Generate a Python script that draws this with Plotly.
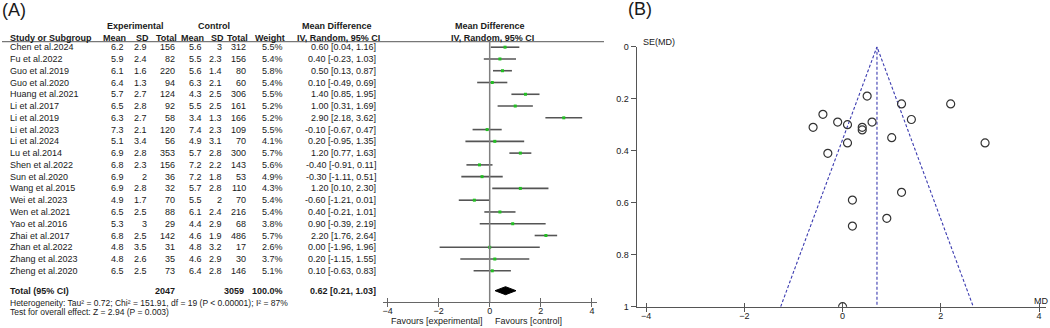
import plotly.graph_objects as go

W, H = 1050, 328

studies = ["Chen et al.2024", "Fu et al.2022", "Guo et al.2019", "Guo et al.2020", "Huang et al.2021",
           "Li et al.2017", "Li et al.2019", "Li et al.2023", "Li et al.2024", "Lu et al.2014",
           "Shen et al.2022", "Sun et al.2020", "Wang et al.2015", "Wei et al.2023", "Wen et al.2021",
           "Yao et al.2016", "Zhai et al.2017", "Zhan et al.2022", "Zhang et al.2023", "Zheng et al.2020"]
exp_mean = [6.2, 5.9, 6.1, 6.4, 5.7, 6.5, 6.3, 7.3, 5.1, 6.9, 6.8, 6.9, 6.9, 4.9, 6.5, 5.3, 6.8, 4.8, 4.8, 6.5]
exp_sd = [2.9, 2.4, 1.6, 1.3, 2.7, 2.8, 2.7, 2.1, 3.4, 2.8, 2.3, 2, 2.8, 1.7, 2.5, 3, 2.5, 3.5, 2.6, 2.5]
exp_n = [156, 82, 220, 94, 124, 92, 58, 120, 56, 353, 156, 36, 32, 70, 88, 29, 142, 31, 35, 73]
ctl_mean = [5.6, 5.5, 5.6, 6.3, 4.3, 5.5, 3.4, 7.4, 4.9, 5.7, 7.2, 7.2, 5.7, 5.5, 6.1, 4.4, 4.6, 4.8, 4.6, 6.4]
ctl_sd = [3, 2.3, 1.4, 2.1, 2.5, 2.5, 1.3, 2.3, 3.1, 2.8, 2.2, 1.8, 2.8, 2, 2.4, 2.9, 1.9, 3.2, 2.9, 2.8]
ctl_n = [312, 156, 80, 60, 306, 161, 166, 109, 70, 300, 143, 53, 110, 70, 216, 68, 486, 17, 30, 146]
weight = [5.5, 5.4, 5.8, 5.4, 5.5, 5.2, 5.2, 5.5, 4.1, 5.7, 5.6, 4.9, 4.3, 5.4, 5.4, 3.8, 5.7, 2.6, 3.7, 5.1]
md = [0.60, 0.40, 0.50, 0.10, 1.40, 1.00, 2.90, -0.10, 0.20, 1.20, -0.40, -0.30, 1.20, -0.60, 0.40, 0.90, 2.20, 0.00, 0.20, 0.10]
ci_lo = [0.04, -0.23, 0.13, -0.49, 0.85, 0.31, 2.18, -0.67, -0.95, 0.77, -0.91, -1.11, 0.10, -1.21, -0.21, -0.39, 1.76, -1.96, -1.15, -0.63]
ci_hi = [1.16, 1.03, 0.87, 0.69, 1.95, 1.69, 3.62, 0.47, 1.35, 1.63, 0.11, 0.51, 2.30, 0.01, 1.01, 2.19, 2.64, 1.96, 1.55, 0.83]
se_md = [0.29, 0.32, 0.19, 0.30, 0.28, 0.35, 0.37, 0.29, 0.59, 0.22, 0.26, 0.41, 0.56, 0.31, 0.31, 0.66, 0.22, 1.00, 0.69, 0.37]

total_exp = 2047
total_ctl = 3059
total_weight = 100.0
pooled = [0.21, 0.62, 1.03]       # lower, estimate, upper
funnel_center = 0.70
forest_ticks = [-4, -2, 0, 2, 4]
funnel_xticks = [-4, -2, 0, 2, 4]
funnel_yticks = [0, 0.2, 0.4, 0.6, 0.8, 1]

FONT = "Arial, Liberation Sans, sans-serif"
TXT = "#1a1a1a"
n = len(studies)

# row geometry (forest y-axis in "row" units)
ROW_TOTAL = 20.69
ROW_AXIS = 21.67
ROW_HEAD = -0.81
ROW_GROUP = -1.83
ROW_LINE = -0.47

fig = go.Figure()

# CI lines
cx, cy = [], []
for i in range(n):
    cx += [ci_lo[i], ci_hi[i], None]
    cy += [i, i, None]
fig.add_trace(go.Scatter(x=cx, y=cy, mode="lines", line=dict(color="#555555", width=1.6),
                         xaxis="x", yaxis="y", hoverinfo="skip"))
fig.add_trace(go.Scatter(x=md, y=list(range(n)), mode="markers",
                         marker=dict(symbol="square", size=3, color="#22c022"),
                         xaxis="x", yaxis="y"))
# diamond
fig.add_trace(go.Scatter(x=[pooled[0], pooled[1], pooled[2], pooled[1], pooled[0]],
                         y=[ROW_TOTAL, ROW_TOTAL - 0.34, ROW_TOTAL, ROW_TOTAL + 0.34, ROW_TOTAL],
                         mode="lines", fill="toself", fillcolor="black", line=dict(color="black", width=1),
                         xaxis="x", yaxis="y"))
# dummy on overlay axis to make crossing ticks
fig.add_trace(go.Scatter(x=[0], y=[None], xaxis="x3", yaxis="y", mode="markers"))

# funnel lines
fdash = dict(color="#3b3bb0", width=1.1, dash="3px,2px")
fig.add_trace(go.Scatter(x=[funnel_center - 1.96, funnel_center, funnel_center + 1.96],
                         y=[1, 0, 1], mode="lines", line=fdash, xaxis="x2", yaxis="y2"))
fig.add_trace(go.Scatter(x=[funnel_center, funnel_center], y=[0, 1], mode="lines", line=fdash,
                         xaxis="x2", yaxis="y2"))
fig.add_trace(go.Scatter(x=md, y=se_md, mode="markers",
                         marker=dict(symbol="circle-open", size=8, color="#333333",
                                     line=dict(width=1.2, color="#333333")),
                         xaxis="x2", yaxis="y2"))
fig.add_trace(go.Scatter(x=[0], y=[None], xaxis="x4", yaxis="y2", mode="markers"))

# forest axis geometry
fx0, fx1 = 383 / W, 597 / W
frange = [-4.176, 4.2]
axis_pos = 1 - 302.3 / H
ax_common = dict(showgrid=False, zeroline=False, tickvals=forest_ticks, range=frange, automargin=False)

layout = dict(
    width=W, height=H, margin=dict(l=0, r=0, t=0, b=0, autoexpand=False),
    paper_bgcolor="white", plot_bgcolor="white", showlegend=False,
    font=dict(family=FONT, size=9, color=TXT),
    xaxis=dict(domain=[fx0, fx1], anchor="free", position=axis_pos, showline=True, linecolor="#666666",
               linewidth=1.3, ticks="inside", ticklen=4, tickcolor="#666666", tickwidth=1.3,
               tickfont=dict(size=9, color=TXT), **ax_common),
    xaxis3=dict(overlaying="x", anchor="free", position=axis_pos, showline=False, ticks="outside",
                ticklen=4, tickcolor="#666666", tickwidth=1.3, showticklabels=False, **ax_common),
    yaxis=dict(domain=[0, 1], range=[23.86, -4.01], visible=False, anchor="free", position=0,
               automargin=False),
    xaxis2=dict(domain=[636.7 / W, 1046 / W], range=[-4.19, 4.14], anchor="y2", showline=True,
                linecolor="#555555", linewidth=1.4, ticks="inside", ticklen=4, tickcolor="#555555",
                tickwidth=1.3, tickvals=funnel_xticks, showgrid=False, zeroline=False, automargin=False,
                tickfont=dict(size=9, color=TXT)),
    xaxis4=dict(overlaying="x2", anchor="y2", range=[-4.19, 4.14], ticks="outside", ticklen=4,
                tickcolor="#555555", tickwidth=1.3, tickvals=funnel_xticks, showticklabels=False,
                showgrid=False, zeroline=False, showline=False, automargin=False),
    yaxis2=dict(domain=[1 - 306.7 / H, 1 - 46.7 / H], range=[1, 0], anchor="x2", showline=True,
                linecolor="#555555", linewidth=1.4, ticks="outside", ticklen=5, tickcolor="#555555",
                tickwidth=1.3, tickvals=funnel_yticks, ticktext=[f"{v:g}" for v in funnel_yticks],
                showgrid=False, zeroline=False, automargin=False, tickfont=dict(size=9, color=TXT)),
)

ann = []


def t(xpx, yrow, s, anchor="right", size=9, bold=False, yref="y", xref="paper"):
    x = xpx / W if xref == "paper" else xpx
    ann.append(dict(x=x, y=yrow, xref=xref, yref=yref, text=f"<b>{s}</b>" if bold else s,
                    showarrow=False, xanchor=anchor, yanchor="middle", borderpad=0,
                    font=dict(size=size, color=TXT, family=FONT)))


cols = [125, 148, 176, 203, 223, 247, 284, 377]
for i in range(n):
    t(9, i, studies[i], "left")
    vals = [f"{exp_mean[i]:g}", f"{exp_sd[i]:g}", f"{exp_n[i]}", f"{ctl_mean[i]:g}", f"{ctl_sd[i]:g}",
            f"{ctl_n[i]}", f"{weight[i]:.1f}%", f"{md[i]:.2f} [{ci_lo[i]:.2f}, {ci_hi[i]:.2f}]"]
    for xc, v in zip(cols, vals):
        t(xc, i, v)

# headers
t(135, ROW_GROUP, "Experimental", "center", bold=True)
t(214, ROW_GROUP, "Control", "center", bold=True)
t(337, ROW_GROUP, "Mean Difference", "center", bold=True)
t(0, ROW_GROUP, "Mean Difference", "center", bold=True, xref="x")
t(9, ROW_HEAD, "Study or Subgroup", "left", bold=True)
for xc, s in zip(cols[:7], ["Mean", "SD", "Total", "Mean", "SD", "Total", "Weight"]):
    t(xc + 2, ROW_HEAD, s, bold=True)
t(338, ROW_HEAD, "IV, Random, 95% CI", "center", bold=True)
t(0.1, ROW_HEAD, "IV, Random, 95% CI", "center", bold=True, xref="x")

# totals
t(9, ROW_TOTAL, "Total (95% CI)", "left", bold=True)
t(cols[2], ROW_TOTAL, f"{total_exp}", bold=True)
t(cols[5] - 2, ROW_TOTAL, f"{total_ctl}", bold=True)
t(cols[6], ROW_TOTAL, f"{total_weight:.1f}%", bold=True)
t(cols[7], ROW_TOTAL, f"{pooled[1]:.2f} [{pooled[0]:.2f}, {pooled[2]:.2f}]", bold=True)
t(9, 21.76, "Heterogeneity: Tau² = 0.72; Chi² = 151.91, df = 19 (P < 0.00001); I² = 87%", "left", size=8.5)
t(9, 22.53, "Test for overall effect: Z = 2.94 (P = 0.003)", "left", size=8.5)

# favours
t(-0.21, 23.3, "Favours [experimental]", "right", xref="x")
t(0.17, 23.3, "Favours [control]", "left", xref="x")

# panel labels
ann.append(dict(x=0, y=1 - 10 / H, xref="paper", yref="paper", text="(A)", showarrow=False,
                xanchor="left", yanchor="middle", font=dict(size=18, color=TXT, family=FONT)))
ann.append(dict(x=626 / W, y=1 - 9 / H, xref="paper", yref="paper", text="(B)", showarrow=False,
                xanchor="left", yanchor="middle", font=dict(size=18, color=TXT, family=FONT)))
ann.append(dict(x=641 / W, y=1 - 41.7 / H, xref="paper", yref="paper", text="SE(MD)", showarrow=False,
                xanchor="left", yanchor="middle", font=dict(size=9, color=TXT, family=FONT)))
ann.append(dict(x=1032 / W, y=1 - 301 / H, xref="paper", yref="paper", text="MD", showarrow=False,
                xanchor="left", yanchor="middle", font=dict(size=9, color=TXT, family=FONT)))

layout["annotations"] = ann
layout["shapes"] = [
    dict(type="line", xref="paper", yref="y", x0=2 / W, x1=604 / W, y0=ROW_LINE, y1=ROW_LINE,
         line=dict(color="#777777", width=1.3)),
    dict(type="line", xref="x", yref="y", x0=0, x1=0, y0=ROW_LINE, y1=ROW_AXIS,
         line=dict(color="#808080", width=1.5)),
]
fig.update_layout(**layout)
fig.write_html("out.html", config={"displayModeBar": False},
               post_script="document.body.style.margin='0';document.body.style.overflow='hidden';")
